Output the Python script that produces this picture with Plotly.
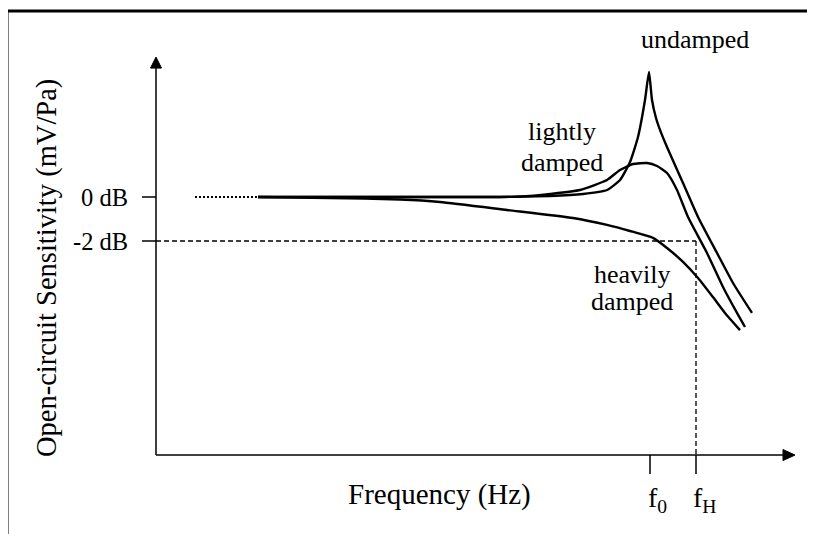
import plotly.graph_objects as go

# ---- data (frequency in arbitrary units along the drawn axis, sensitivity in dB) ----
undamped_f = [258, 400, 500, 550, 583, 607, 620, 630, 638, 645, 649, 652, 656, 660, 667, 683, 698, 717, 733, 752]
undamped_db = [0, 0, 0, 0.045, 0.136, 0.318, 0.773, 1.59, 2.73, 4.41, 5.68, 4.41, 3.59, 3.05, 2.27, 0.636, -0.909, -2.545, -3.909, -5.27]

lightly_f = [258, 400, 500, 530, 550, 580, 607, 620, 633, 647, 657, 667, 677, 688, 707, 723, 737, 745]
lightly_db = [0, 0, 0, 0.045, 0.136, 0.318, 0.773, 1.227, 1.5, 1.545, 1.41, 1.09, 0.318, -0.909, -2.545, -4.09, -5.27, -5.91]

heavily_f = [258, 330, 400, 440, 507, 573, 607, 630, 653, 667, 683, 698, 713, 725, 740]
heavily_db = [0, -0.045, -0.114, -0.227, -0.59, -0.955, -1.27, -1.545, -1.86, -2.32, -2.95, -3.68, -4.55, -5.27, -6.05]

dotted_f = [195, 258]
dotted_db = [0, 0]

tick_labels = ["0 dB", "-2 dB"]
tick_values = [0, -2]
f0 = 650
fH = 696

# axis geometry
X_AXIS_DB = -11.73
Y_AXIS_F = 156
X_END = 795
Y_TOP = 6.36

# page offset compensation (browser body margin)
OFF = 8
PX_PER_DB = 22.0

FONT = "Liberation Serif, Times New Roman, serif"
BLACK = "black"

fig = go.Figure()

for fx, fy in [(undamped_f, undamped_db), (lightly_f, lightly_db), (heavily_f, heavily_db)]:
    fig.add_trace(go.Scatter(x=fx, y=fy, mode="lines",
                             line=dict(color=BLACK, width=2.4, shape="spline", smoothing=0.5),
                             hoverinfo="skip", showlegend=False))

fig.add_trace(go.Scatter(x=dotted_f, y=dotted_db, mode="lines",
                         line=dict(color=BLACK, width=2, dash="2px,2px"),
                         hoverinfo="skip", showlegend=False))

shapes = []
# frame
shapes.append(dict(type="rect", x0=7, x1=840, y0=(197 - 560) / PX_PER_DB, y1=(197 - 11) / PX_PER_DB,
                   line=dict(color=BLACK, width=3), fillcolor="rgba(0,0,0,0)", layer="above"))
# axes
shapes.append(dict(type="line", x0=Y_AXIS_F, x1=Y_AXIS_F, y0=X_AXIS_DB, y1=Y_TOP - 0.4,
                   line=dict(color=BLACK, width=1.5)))
shapes.append(dict(type="line", x0=Y_AXIS_F, x1=X_END - 10, y0=X_AXIS_DB, y1=X_AXIS_DB,
                   line=dict(color=BLACK, width=1.5)))
# arrowheads
shapes.append(dict(type="path",
                   path=f"M {Y_AXIS_F},{Y_TOP} L {Y_AXIS_F - 5.5},{Y_TOP - 0.5} L {Y_AXIS_F + 5.5},{Y_TOP - 0.5} Z",
                   fillcolor=BLACK, line=dict(color=BLACK, width=1)))
shapes.append(dict(type="path",
                   path=f"M {X_END},{X_AXIS_DB} L {X_END - 12},{X_AXIS_DB + 0.25} L {X_END - 12},{X_AXIS_DB - 0.25} Z",
                   fillcolor=BLACK, line=dict(color=BLACK, width=1)))
# y ticks
for v in tick_values:
    shapes.append(dict(type="line", x0=142, x1=Y_AXIS_F, y0=v, y1=v, line=dict(color=BLACK, width=1.5)))
# x ticks
for fv in [f0, fH]:
    shapes.append(dict(type="line", x0=fv, x1=fv, y0=X_AXIS_DB, y1=X_AXIS_DB - 0.86,
                       line=dict(color=BLACK, width=1.5)))
# dashed -2 dB guide
shapes.append(dict(type="line", x0=Y_AXIS_F, x1=fH, y0=-2, y1=-2,
                   line=dict(color=BLACK, width=1.3, dash="5px,3px")))
shapes.append(dict(type="line", x0=fH, x1=fH, y0=-2, y1=X_AXIS_DB,
                   line=dict(color=BLACK, width=1.3, dash="5px,3px")))

annotations = []
def txt(x, y, text, size, xanchor="center", angle=0):
    annotations.append(dict(x=x, y=y, xref="x", yref="y", text=text, showarrow=False,
                            xanchor=xanchor, yanchor="middle", textangle=angle,
                            font=dict(family=FONT, size=size, color=BLACK)))

txt(130, 0, tick_labels[0], 24.5, xanchor="right")
txt(130, -2, tick_labels[1], 24.5, xanchor="right")
txt(47, -3.23, "Open-circuit Sensitivity (mV/Pa)", 28.5, angle=-90)
txt(439, -13.5, "Frequency (Hz)", 29)
txt(657, -13.77, "f<sub>0</sub>", 28)
txt(704, -13.77, "f<sub>H</sub>", 28)
txt(695, 7.14, "undamped", 26)
txt(562, 3.0, "lightly", 26)
txt(562, 1.59, "damped", 26)
txt(632, -3.5, "heavily", 26)
txt(632, -4.77, "damped", 26)

fig.update_layout(
    width=815, height=534,
    margin=dict(l=0, r=0, t=0, b=0),
    paper_bgcolor="white", plot_bgcolor="white",
    xaxis=dict(range=[OFF, 815 + OFF], visible=False, fixedrange=True),
    yaxis=dict(range=[(197 - 534 - OFF) / PX_PER_DB, (197 - OFF) / PX_PER_DB], visible=False, fixedrange=True),
    shapes=shapes, annotations=annotations, showlegend=False,
)

fig.write_html("out.html")
